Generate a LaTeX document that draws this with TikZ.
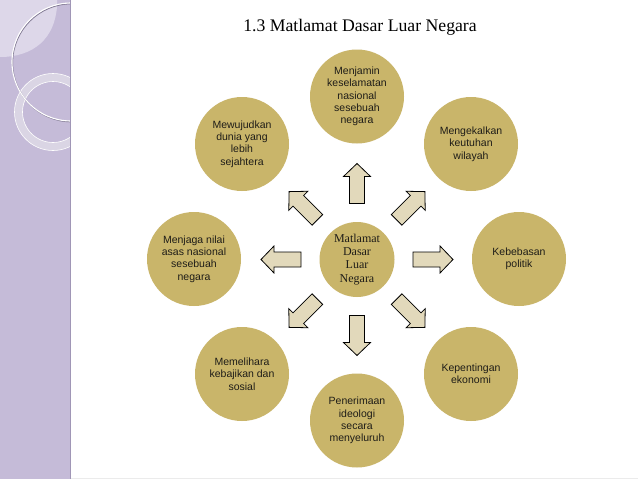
\documentclass[tikz,border=0pt]{standalone}
\usepackage{fontspec}
\setmainfont{Liberation Serif}
\newfontfamily\arialfont{Liberation Sans}
\definecolor{gold}{RGB}{201,181,106}
\definecolor{beige}{RGB}{226,217,187}
\definecolor{strip}{RGB}{197,187,216}
\definecolor{stripLight}{RGB}{221,215,233}
\definecolor{stripEdge}{RGB}{160,150,182}
\definecolor{ringFill}{RGB}{218,213,228}
\definecolor{txt}{RGB}{30,28,24}
\tikzset{
  goal/.style={circle, fill=gold, inner sep=0pt, minimum size=94pt, align=center,
    text=txt, font=\arialfont\fontsize{10.5}{12.3}\selectfont},
  hub/.style={circle, fill=gold, inner sep=0pt, minimum size=75pt, align=center,
    text=txt, font=\fontsize{12}{13.2}\selectfont},
  blockarrow/.style={draw=black, fill=beige, line width=0.8pt, line join=miter},
}
\begin{document}
\begin{tikzpicture}[x=1pt,y=-1pt]
\useasboundingbox (0,0) rectangle (638,479);
\fill[white] (0,0) rectangle (638,479);
% left decoration strip
\fill[strip] (0,0) rectangle (70,479);
\fill[stripLight] (0,0) -- (57,0) -- (57,6) .. controls (55,38) and (34,57) .. (0,57) -- cycle;
\begin{scope}
  \clip (0,0) rectangle (70,479);
  \fill[ringFill, even odd rule] (53,112) circle[radius=38.5] (53,112) circle[radius=30.5];
  \draw[white, line width=0.6pt] (53,112) circle[radius=38.5];
  \draw[white, line width=0.6pt] (53,112) circle[radius=30.5];
  \draw[stripEdge!80!black, line width=1pt] (71.6,62.8) circle[radius=59];
  \draw[white, line width=1.1pt] (71,62) circle[radius=59];
\end{scope}
\draw[stripEdge, line width=1pt] (70,0) -- (70,479);
\draw[black!8, line width=0.8pt] (71,478.5) -- (638,478.5);
% title
\node[anchor=base, font=\fontsize{17.7}{20}\selectfont, text=black] (title) at (360,31) {1.3 Matlamat Dasar Luar Negara};
% hub
\node[hub] (c) at (357,259.5) {Matlamat\\Dasar\\Luar\\Negara};
% goals
\node[goal] (g1) at (357,96.5) {Menjamin\\keselamatan\\nasional\\sesebuah\\negara};
\node[goal] (g2) at (471,144) {Mengekalkan\\keutuhan\\wilayah};
\node[goal] (g3) at (519,259) {Kebebasan\\politik};
\node[goal] (g4) at (471,374) {Kepentingan\\ekonomi};
\node[goal] (g5) at (357,420.5) {Penerimaan\\ideologi\\secara\\menyeluruh};
\node[goal] (g6) at (242,374) {Memelihara\\kebajikan dan\\sosial};
\node[goal] (g7) at (194,259) {Menjaga nilai\\asas nasional\\sesebuah\\negara};
\node[goal] (g8) at (242,144) {Mewujudkan\\dunia yang\\lebih\\sejahtera};
% block arrows
\foreach \ang in {0,45,90,135,180,225,270,315}{
  \draw[blockarrow, shift={(c.center)}, rotate=\ang]
    (56,-7.5) -- (83,-7.5) -- (83,-13.5) -- (96,0) -- (83,13.5) -- (83,7.5) -- (56,7.5) -- cycle;
}
\end{tikzpicture}
\end{document}
